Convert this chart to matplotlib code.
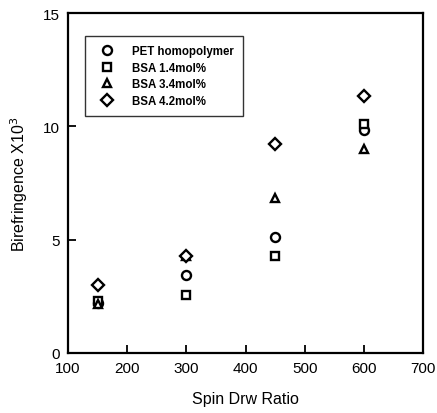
import matplotlib
matplotlib.use("Agg")
import matplotlib.pyplot as plt

plt.rcParams['font.family'] = ['Liberation Sans', 'DejaVu Sans']

draw_ratio = [150, 300, 450, 600]
pet_homopolymer = [2.2, 3.45, 5.1, 9.85]
bsa_14 = [2.3, 2.55, 4.3, 10.1]
bsa_34 = [2.15, 4.3, 6.85, 9.0]
bsa_42 = [3.0, 4.3, 9.2, 11.35]

series = [
    ("PET homopolymer", pet_homopolymer, 'o'),
    ("BSA 1.4mol%", bsa_14, 's'),
    ("BSA 3.4mol%", bsa_34, '^'),
    ("BSA 4.2mol%", bsa_42, 'D'),
]

fig = plt.figure(figsize=(4.37, 4.14), dpi=100)
ax = fig.add_axes([68/437, (414-354)/414, (423-68)/437, (354-14)/414])

sizes = {'o': 6.5, 's': 6, '^': 6, 'D': 6}
for label, vals, m in series:
    ax.plot(draw_ratio, vals, linestyle='none', marker=m, markersize=sizes[m],
            markerfacecolor='white', markeredgecolor='black', markeredgewidth=1.7,
            label=label)

ax.set_xlim(100, 700)
ax.set_ylim(0, 15)
ax.set_xticks([100, 200, 300, 400, 500, 600, 700])
ax.set_yticks([0, 5, 10, 15])
ax.tick_params(direction='in', length=6, width=1.3, labelsize=11, pad=6)
for s in ax.spines.values():
    s.set_linewidth(1.6)

ax.set_xlabel("Spin Drw Ratio", fontsize=11.5, labelpad=11)
ax.set_ylabel("Birefringence X10$^3$", fontsize=11.5, labelpad=9)

leg = ax.legend(loc='upper left', bbox_to_anchor=((85-68)/355, 1-(37-14)/340),
                frameon=True, fancybox=False, edgecolor='black',
                prop={'size': 8.3, 'weight': 'bold'}, handletextpad=1.1,
                borderpad=0.8, labelspacing=0.4, handlelength=2.2,
                borderaxespad=0)
leg.get_frame().set_linewidth(1.0)

fig.savefig("out.png", dpi=100)
